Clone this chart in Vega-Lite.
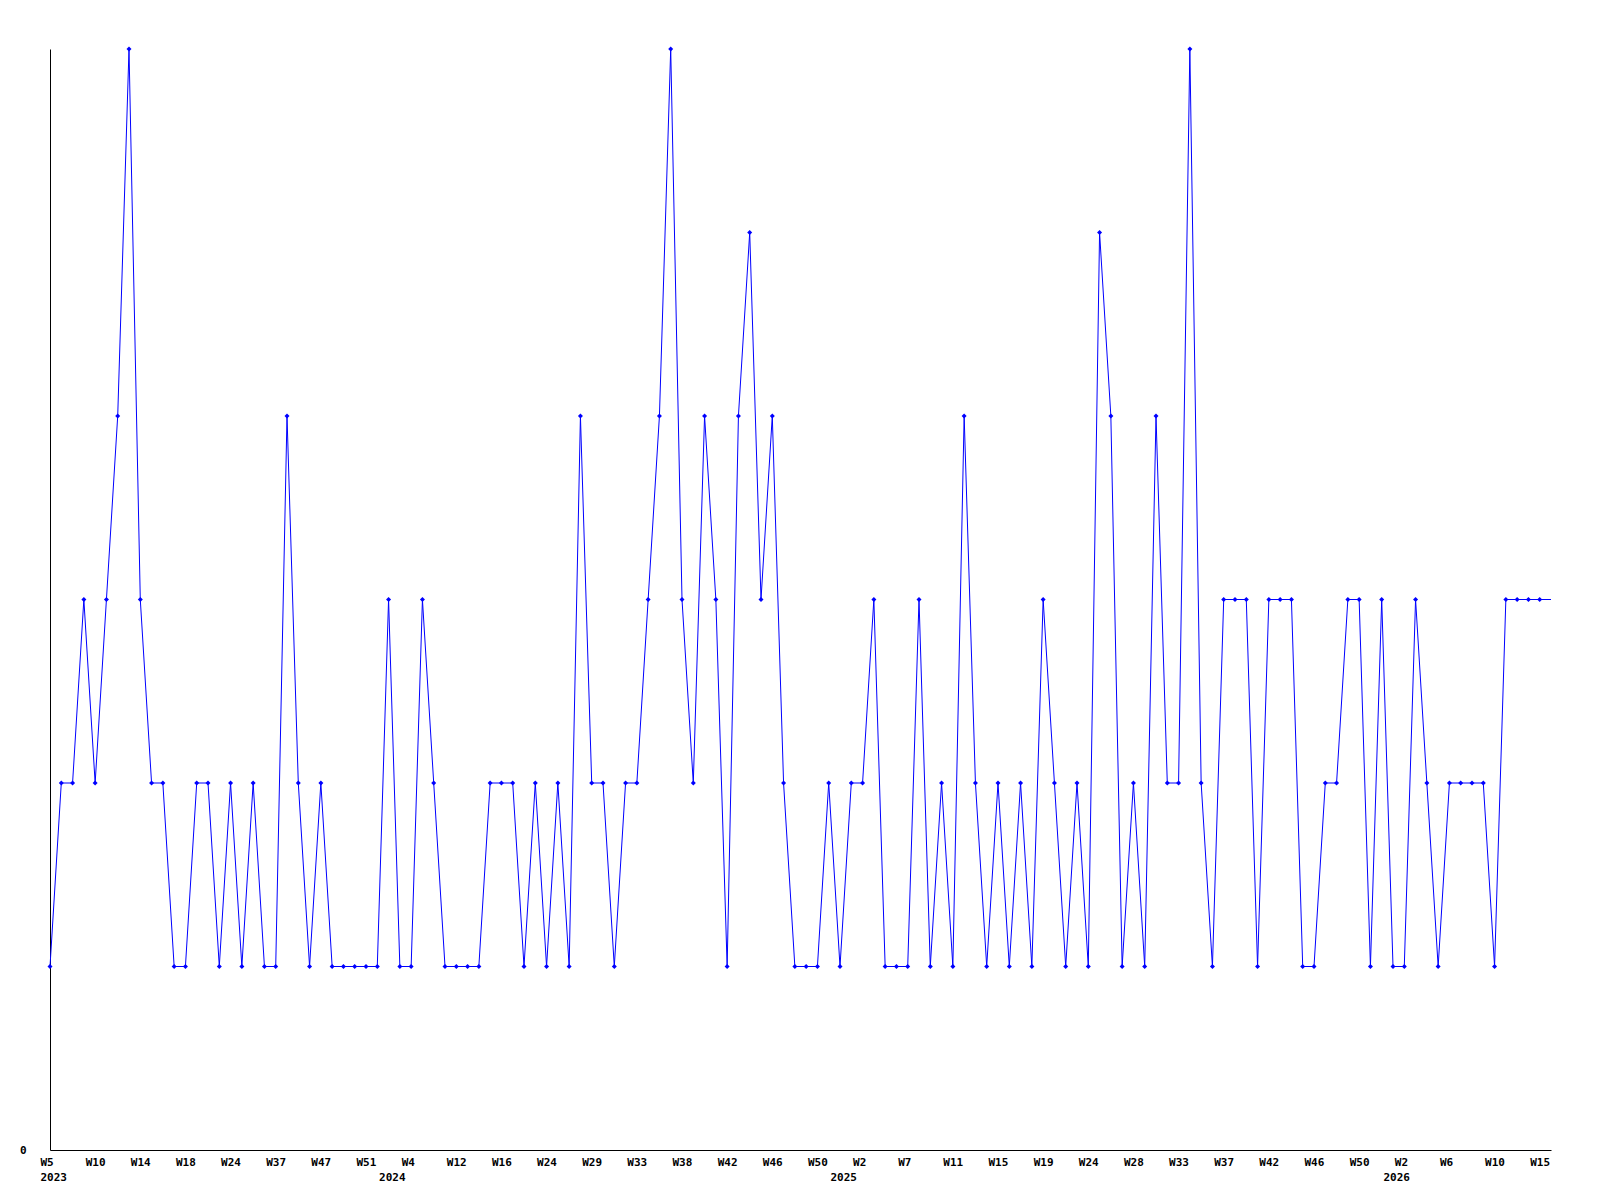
{
  "$schema": "https://vega.github.io/schema/vega-lite/v6.json",
  "width": 1501,
  "height": 1101,
  "autosize": {"type": "none"},
  "padding": {"left": 50, "top": 49, "right": 49, "bottom": 50},
  "background": "white",
  "config": {"view": {"stroke": null}},
  "data": {"values": [
    {"week": "2023-W05", "count": 1}, {"week": "2023-W06", "count": 2}, {"week": "2023-W07", "count": 2}, {"week": "2023-W08", "count": 3},
    {"week": "2023-W10", "count": 2}, {"week": "2023-W11", "count": 3}, {"week": "2023-W12", "count": 4}, {"week": "2023-W13", "count": 6},
    {"week": "2023-W14", "count": 3}, {"week": "2023-W15", "count": 2}, {"week": "2023-W16", "count": 2}, {"week": "2023-W17", "count": 1},
    {"week": "2023-W18", "count": 1}, {"week": "2023-W19", "count": 2}, {"week": "2023-W21", "count": 2}, {"week": "2023-W22", "count": 1},
    {"week": "2023-W24", "count": 2}, {"week": "2023-W26", "count": 1}, {"week": "2023-W29", "count": 2}, {"week": "2023-W33", "count": 1},
    {"week": "2023-W37", "count": 1}, {"week": "2023-W39", "count": 4}, {"week": "2023-W42", "count": 2}, {"week": "2023-W45", "count": 1},
    {"week": "2023-W47", "count": 2}, {"week": "2023-W48", "count": 1}, {"week": "2023-W49", "count": 1}, {"week": "2023-W50", "count": 1},
    {"week": "2023-W51", "count": 1}, {"week": "2023-W52", "count": 1}, {"week": "2024-W00", "count": 3}, {"week": "2024-W02", "count": 1},
    {"week": "2024-W04", "count": 1}, {"week": "2024-W06", "count": 3}, {"week": "2024-W08", "count": 2}, {"week": "2024-W10", "count": 1},
    {"week": "2024-W12", "count": 1}, {"week": "2024-W13", "count": 1}, {"week": "2024-W14", "count": 1}, {"week": "2024-W15", "count": 2},
    {"week": "2024-W16", "count": 2}, {"week": "2024-W18", "count": 2}, {"week": "2024-W20", "count": 1}, {"week": "2024-W22", "count": 2},
    {"week": "2024-W24", "count": 1}, {"week": "2024-W25", "count": 2}, {"week": "2024-W27", "count": 1}, {"week": "2024-W28", "count": 4},
    {"week": "2024-W29", "count": 2}, {"week": "2024-W30", "count": 2}, {"week": "2024-W31", "count": 1}, {"week": "2024-W32", "count": 2},
    {"week": "2024-W33", "count": 2}, {"week": "2024-W34", "count": 3}, {"week": "2024-W36", "count": 4}, {"week": "2024-W37", "count": 6},
    {"week": "2024-W38", "count": 3}, {"week": "2024-W39", "count": 2}, {"week": "2024-W40", "count": 4}, {"week": "2024-W41", "count": 3},
    {"week": "2024-W42", "count": 1}, {"week": "2024-W43", "count": 4}, {"week": "2024-W44", "count": 5}, {"week": "2024-W45", "count": 3},
    {"week": "2024-W46", "count": 4}, {"week": "2024-W47", "count": 2}, {"week": "2024-W48", "count": 1}, {"week": "2024-W49", "count": 1},
    {"week": "2024-W50", "count": 1}, {"week": "2024-W52", "count": 2}, {"week": "2025-W00", "count": 1}, {"week": "2025-W01", "count": 2},
    {"week": "2025-W02", "count": 2}, {"week": "2025-W04", "count": 3}, {"week": "2025-W05", "count": 1}, {"week": "2025-W06", "count": 1},
    {"week": "2025-W07", "count": 1}, {"week": "2025-W08", "count": 3}, {"week": "2025-W09", "count": 1}, {"week": "2025-W10", "count": 2},
    {"week": "2025-W11", "count": 1}, {"week": "2025-W12", "count": 4}, {"week": "2025-W13", "count": 2}, {"week": "2025-W14", "count": 1},
    {"week": "2025-W15", "count": 2}, {"week": "2025-W16", "count": 1}, {"week": "2025-W17", "count": 2}, {"week": "2025-W18", "count": 1},
    {"week": "2025-W19", "count": 3}, {"week": "2025-W20", "count": 2}, {"week": "2025-W22", "count": 1}, {"week": "2025-W23", "count": 2},
    {"week": "2025-W24", "count": 1}, {"week": "2025-W25", "count": 5}, {"week": "2025-W26", "count": 4}, {"week": "2025-W27", "count": 1},
    {"week": "2025-W28", "count": 2}, {"week": "2025-W30", "count": 1}, {"week": "2025-W31", "count": 4}, {"week": "2025-W32", "count": 2},
    {"week": "2025-W33", "count": 2}, {"week": "2025-W34", "count": 6}, {"week": "2025-W35", "count": 2}, {"week": "2025-W36", "count": 1},
    {"week": "2025-W37", "count": 3}, {"week": "2025-W39", "count": 3}, {"week": "2025-W40", "count": 3}, {"week": "2025-W41", "count": 1},
    {"week": "2025-W42", "count": 3}, {"week": "2025-W43", "count": 3}, {"week": "2025-W44", "count": 3}, {"week": "2025-W45", "count": 1},
    {"week": "2025-W46", "count": 1}, {"week": "2025-W47", "count": 2}, {"week": "2025-W48", "count": 2}, {"week": "2025-W49", "count": 3},
    {"week": "2025-W50", "count": 3}, {"week": "2025-W51", "count": 1}, {"week": "2025-W52", "count": 3}, {"week": "2026-W00", "count": 1},
    {"week": "2026-W02", "count": 1}, {"week": "2026-W03", "count": 3}, {"week": "2026-W04", "count": 2}, {"week": "2026-W05", "count": 1},
    {"week": "2026-W06", "count": 2}, {"week": "2026-W07", "count": 2}, {"week": "2026-W08", "count": 2}, {"week": "2026-W09", "count": 2},
    {"week": "2026-W10", "count": 1}, {"week": "2026-W12", "count": 3}, {"week": "2026-W13", "count": 3}, {"week": "2026-W14", "count": 3},
    {"week": "2026-W15", "count": 3}, {"week": "2026-W16", "count": 3}
  ]},
  "encoding": {
    "x": {
      "field": "week", "type": "ordinal", "sort": null,
      "scale": {"type": "point", "padding": 0},
      "axis": {
        "title": null, "ticks": false, "grid": false,
        "domainColor": "#000000", "domainWidth": 1,
        "values": ["2023-W05","2023-W10","2023-W14","2023-W18","2023-W24","2023-W37","2023-W47","2023-W51","2024-W00","2024-W04","2024-W12","2024-W16","2024-W24","2024-W29","2024-W33","2024-W38","2024-W42","2024-W46","2024-W50","2025-W00","2025-W02","2025-W07","2025-W11","2025-W15","2025-W19","2025-W24","2025-W28","2025-W33","2025-W37","2025-W42","2025-W46","2025-W50","2026-W00","2026-W02","2026-W06","2026-W10","2026-W15"],
        "labelExpr": "indexof(datum.value,'W00')>0 ? [' ', slice(datum.value,0,4)] : (datum.value=='2023-W05' ? ['W5','2023'] : 'W'+toNumber(slice(datum.value,6)))",
        "labelAlign": "left", "labelOffset": -10, "labelBaseline": "top",
        "labelPadding": 6, "labelLineHeight": 15,
        "labelFont": "DejaVu Sans Mono", "labelFontWeight": "bold", "labelFontSize": 11, "labelColor": "#000000",
        "labelOverlap": false, "labelBound": false, "labelFlush": false, "labelAngle": 0
      }
    },
    "y": {
      "field": "count", "type": "quantitative",
      "scale": {"domain": [0, 6], "nice": false, "zero": true},
      "axis": {
        "title": null, "values": [0], "ticks": false, "grid": false,
        "domainColor": "#000000", "domainWidth": 1,
        "labelPadding": 24, "labelOffset": 0, "labelFlush": false,
        "labelFont": "DejaVu Sans Mono", "labelFontWeight": "bold", "labelFontSize": 11, "labelColor": "#000000"
      }
    }
  },
  "layer": [
    {"mark": {"type": "line", "color": "#0000ff", "strokeWidth": 1}},
    {
      "transform": [{"filter": "datum.week != '2026-W16'"}],
      "mark": {"type": "point", "shape": "diamond", "filled": true, "size": 25, "color": "#0000ff", "opacity": 1}
    }
  ]
}
